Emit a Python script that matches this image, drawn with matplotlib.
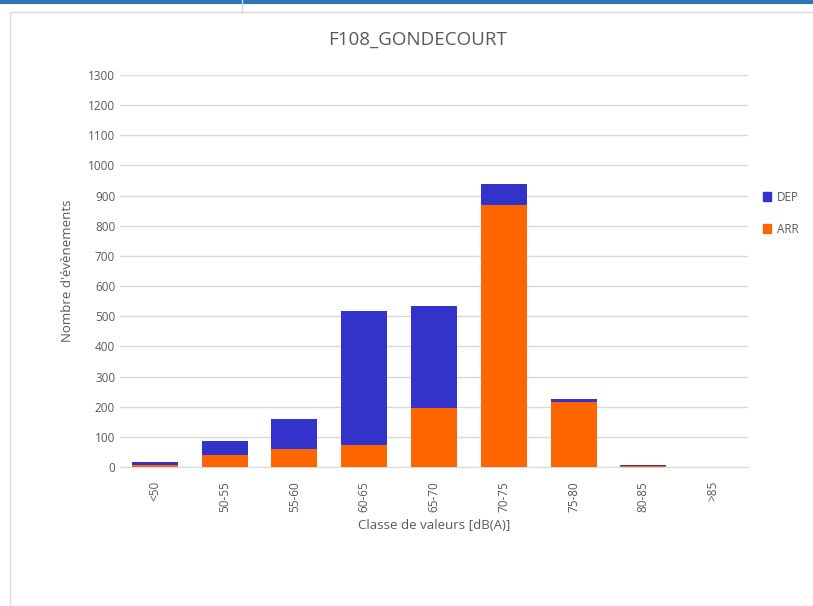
import numpy as np
import matplotlib.pyplot as plt
from matplotlib.patches import Rectangle
from matplotlib.lines import Line2D

# donnees
categories = ['<50', '50-55', '55-60', '60-65', '65-70', '70-75', '75-80', '80-85', '>85']
arr = [8, 40, 60, 73, 196, 869, 216, 4, 0]
dep = [9, 46, 99, 444, 338, 70, 9, 2, 0]

colDep = '#3333CC'
colArr = '#FF6600'
txtCol = '#595959'

plt.rcParams['font.family'] = ['Open Sans', 'DejaVu Sans']

fig = plt.figure(figsize=(8.13, 6.06), dpi=100)
# cadre de la zone graphique
fig.patches.append(Rectangle((10 / 813, 0.0), 1.0, 1 - 12 / 606, transform=fig.transFigure,
                             fill=False, edgecolor='#D9D9D9', linewidth=1))
fig.lines.append(Line2D([0, 1], [1 - 1.5 / 606, 1 - 1.5 / 606], transform=fig.transFigure,
                        color='#2E75B6', linewidth=3))
fig.lines.append(Line2D([242 / 813, 242 / 813], [1 - 12 / 606, 1], transform=fig.transFigure,
                        color='#D9D9D9', linewidth=1))

ax = fig.add_axes([120 / 813, 1 - 467 / 606, 628 / 813, 392 / 606])
x = np.arange(len(categories))
ax.bar(x, arr, width=0.66, color=colArr, label='ARR', zorder=3)
ax.bar(x, dep, width=0.66, bottom=arr, color=colDep, label='DEP', zorder=3)

ax.set_xlim(-0.5, len(categories) - 0.5)
ax.set_ylim(0, 1300)
ax.set_yticks(np.arange(0, 1301, 100))
ax.set_xticks(x)
ax.set_xticklabels(categories, rotation=90)
ax.tick_params(length=0, colors=txtCol, labelsize=8.5)
ax.tick_params(axis='x', pad=10)
ax.grid(axis='y', color='#D9D9D9', linewidth=1, zorder=0)
for s in ['top', 'right', 'left']:
    ax.spines[s].set_visible(False)
ax.spines['bottom'].set_color('#D9D9D9')

ax.set_xlabel('Classe de valeurs [dB(A)]', color=txtCol, fontsize=9.5, labelpad=5)
ax.set_ylabel("Nombre d'évènements", color=txtCol, fontsize=9.5, labelpad=10)
fig.text(418 / 813, 1 - 40 / 606, 'F108_GONDECOURT', ha='center', va='center',
         color=txtCol, fontsize=13.5)

handles = [Rectangle((0, 0), 1, 1, color=colDep), Rectangle((0, 0), 1, 1, color=colArr)]
fig.legend(handles, ['DEP', 'ARR'], loc='upper left', bbox_to_anchor=(752 / 813, 1 - 180 / 606),
           frameon=False, handlelength=0.7, handleheight=0.7, handletextpad=0.5,
           labelspacing=1.6, fontsize=8.5, labelcolor=txtCol)

plt.savefig('out.png', dpi=100)
